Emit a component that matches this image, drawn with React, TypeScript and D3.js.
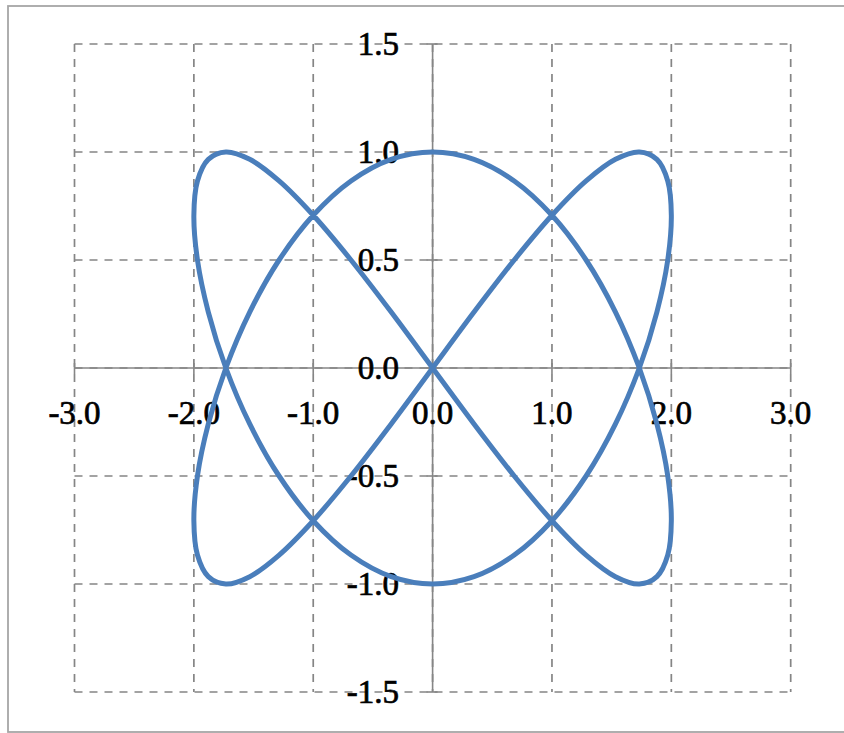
import React from "react";
import * as d3 from "d3";

// Curve points (x, y)
const xs = [
  0, 0.347, 0.684, 1.0, 1.286, 1.532, 1.732, 1.879, 1.97, 2, 1.97, 1.879,
  1.732, 1.532, 1.286, 1.0, 0.684, 0.347, 0, -0.347, -0.684, -1.0, -1.286, -1.532,
  -1.732, -1.879, -1.97, -2, -1.97, -1.879, -1.732, -1.532, -1.286, -1.0, -0.684, -0.347,
  0, 0.347, 0.684, 1.0, 1.286, 1.532, 1.732, 1.879, 1.97, 2, 1.97, 1.879,
  1.732, 1.532, 1.286, 1.0, 0.684, 0.347, 0, -0.347, -0.684, -1.0, -1.286, -1.532,
  -1.732, -1.879, -1.97, -2, -1.97, -1.879, -1.732, -1.532, -1.286, -1.0, -0.684, -0.347,
];
const ys = [
  0, 0.259, 0.5, 0.707, 0.866, 0.966, 1, 0.966, 0.866, 0.707, 0.5, 0.259,
  0, -0.259, -0.5, -0.707, -0.866, -0.966, -1, -0.966, -0.866, -0.707, -0.5, -0.259,
  0, 0.259, 0.5, 0.707, 0.866, 0.966, 1, 0.966, 0.866, 0.707, 0.5, 0.259,
  0, -0.259, -0.5, -0.707, -0.866, -0.966, -1, -0.966, -0.866, -0.707, -0.5, -0.259,
  0, 0.259, 0.5, 0.707, 0.866, 0.966, 1, 0.966, 0.866, 0.707, 0.5, 0.259,
  0, -0.259, -0.5, -0.707, -0.866, -0.966, -1, -0.966, -0.866, -0.707, -0.5, -0.259,
];
const xTicks = [-3, -2, -1, 0, 1, 2, 3];
const yTicks = [-1.5, -1, -0.5, 0, 0.5, 1, 1.5];

export default function App() {
  const W = 844;
  const H = 733;
  const x = d3.scaleLinear().domain([-3, 3]).range([74.5, 790.7]);
  const y = d3.scaleLinear().domain([-1.5, 1.5]).range([692, 44]);
  const pts: [number, number][] = xs.map((v, i) => [v, ys[i]]);
  const line = d3
    .line<[number, number]>()
    .x((d) => x(d[0]))
    .y((d) => y(d[1]))
    .curve(d3.curveCatmullRomClosed.alpha(0.5));
  const grid = "#858585";
  const axis = "#868686";
  const font = "'Liberation Serif', 'Times New Roman', serif";
  return (
    <svg
      width={W}
      height={H}
      style={{ position: "absolute", left: 0, top: 0, background: "#fff" }}
    >
      <rect x={0} y={0} width={W} height={H} fill="#fff" />
      <rect
        x={8}
        y={6}
        width={W}
        height={726}
        fill="none"
        stroke="#a6a6a6"
        strokeWidth={1.8}
      />
      {xTicks.map((t) => (
        <line
          key={"gx" + t}
          x1={x(t)}
          x2={x(t)}
          y1={y(1.5)}
          y2={y(-1.5)}
          stroke={grid}
          strokeWidth={1.7}
          strokeDasharray="8,7"
        />
      ))}
      {yTicks.map((t) => (
        <line
          key={"gy" + t}
          x1={x(-3)}
          x2={x(3)}
          y1={y(t)}
          y2={y(t)}
          stroke={grid}
          strokeWidth={1.7}
          strokeDasharray="8,7"
        />
      ))}
      {/* axes */}
      <line x1={x(-3)} x2={x(3)} y1={y(0)} y2={y(0)} stroke={axis} strokeWidth={1.6} />
      <line x1={x(0)} x2={x(0)} y1={y(1.5)} y2={y(-1.5)} stroke={axis} strokeWidth={1.6} />
      {xTicks.map((t) => (
        <line
          key={"tx" + t}
          x1={x(t)}
          x2={x(t)}
          y1={y(0) - 5}
          y2={y(0) + 6}
          stroke={axis}
          strokeWidth={1.6}
        />
      ))}
      {yTicks.map((t) => (
        <line
          key={"ty" + t}
          x1={x(0) - 6}
          x2={x(0) + 5}
          y1={y(t)}
          y2={y(t)}
          stroke={axis}
          strokeWidth={1.6}
        />
      ))}
      {xTicks.map((t) => (
        <text
          key={"lx" + t}
          x={x(t)}
          y={424}
          textAnchor="middle"
          fontFamily={font}
          fontSize={33}
          fill="#000"
          stroke="#000"
          strokeWidth={0.7}
        >
          {t.toFixed(1)}
        </text>
      ))}
      {yTicks.map((t) => (
        <text
          key={"ly" + t}
          x={399}
          y={y(t)}
          dy="0.34em"
          textAnchor="end"
          fontFamily={font}
          fontSize={33}
          fill="#000"
          stroke="#000"
          strokeWidth={0.7}
        >
          {t.toFixed(1)}
        </text>
      ))}
      <path
        d={line(pts) || ""}
        fill="none"
        stroke="#4a7ebb"
        strokeWidth={5}
        strokeLinejoin="round"
      />
    </svg>
  );
}
